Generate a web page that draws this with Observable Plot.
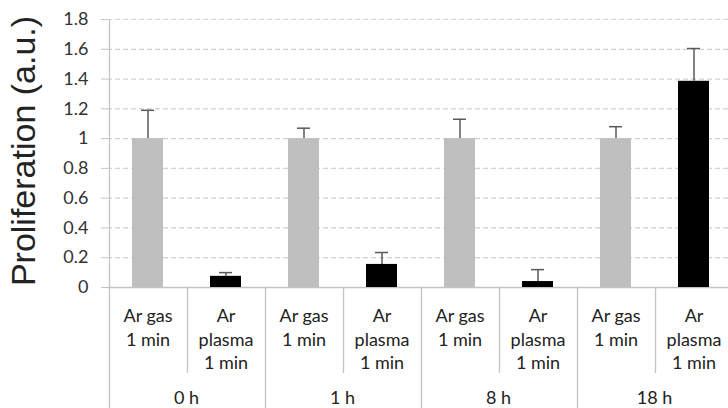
<!DOCTYPE html>
<html><head><meta charset="utf-8">
<script src="https://cdn.jsdelivr.net/npm/d3@7"></script>
<script src="https://cdn.jsdelivr.net/npm/@observablehq/plot@0.6"></script>
<style>body{margin:0;background:#fff;overflow:hidden}</style>
</head><body><div id="chart"></div>
<script>
const times = ["0 h", "1 h", "8 h", "18 h"];
const treatments = ["Ar gas\n1 min", "Ar\nplasma\n1 min"];
const gasMean = [1, 1, 1, 1];
const gasErrTop = [1.19, 1.07, 1.13, 1.08];
const plasmaMean = [0.075, 0.155, 0.04, 1.385];
const plasmaErrTop = [0.10, 0.235, 0.12, 1.605];
const yTicks = [0, 0.2, 0.4, 0.6, 0.8, 1, 1.2, 1.4, 1.6, 1.8];
const yLabel = "Proliferation (a.u.)";
const colors = ["#bfbfbf", "#000000"];

const rows = [];
times.forEach((t, i) => {
  rows.push({time: t, treat: treatments[0], key: t + "|0", mean: gasMean[i], top: gasErrTop[i]});
  rows.push({time: t, treat: treatments[1], key: t + "|1", mean: plasmaMean[i], top: plasmaErrTop[i]});
});
const keys = rows.map(d => d.key);
const labelOf = new Map(rows.map(d => [d.key, d.treat]));

function scaffold(index, scales, values, dims) {
  const {x, y} = scales;
  const g = d3.create("svg:g");
  const bw = x.bandwidth(), step = x.step();
  const y0 = y(0), yTop = y(d3.max(yTicks));
  const H = dims.height;
  keys.forEach((k, i) => {
    const xb = Math.round(x(k) + bw / 2 - step / 2) + 0.5;
    const isGroup = i % 2 === 0;
    g.append("line")
      .attr("x1", xb).attr("x2", xb)
      .attr("y1", i === 0 ? yTop : y0)
      .attr("y2", isGroup ? H : y0 + 86)
      .attr("stroke", "#c4c4c4").attr("stroke-width", 1.3);
  });
  times.forEach((t, i) => {
    const cx = x(keys[2 * i]) + bw / 2 + step / 2;
    g.append("text")
      .attr("x", cx).attr("y", H - 4)
      .attr("text-anchor", "middle")
      .attr("font-family", "Lato").attr("font-size", 18)
      .attr("fill", "#222")
      .text(t);
  });
  const cy = (yTop + y0) / 2 - 2;
  const lx = dims.marginLeft - 72;
  g.append("text")
    .attr("transform", `translate(${lx},${cy}) rotate(-90)`)
    .attr("text-anchor", "middle")
    .attr("font-family", "Liberation Sans").attr("font-size", 34)
    .attr("fill", "#222")
    .text(yLabel);
  return g.node();
}

const chart = Plot.plot({
  width: 728,
  height: 408,
  marginLeft: 107,
  marginTop: 19,
  marginBottom: 121,
  marginRight: -6,
  style: {fontFamily: "Lato", fontSize: "18px", background: "#fff"},
  x: {domain: keys, paddingInner: 0.6, paddingOuter: 0.3},
  y: {domain: [0, 1.8]},
  color: {domain: treatments, range: colors},
  marks: [
    Plot.ruleY(yTicks.filter(v => v > 0), {stroke: "#d0d0d0", strokeDasharray: "5,3", strokeWidth: 1.2}),
    Plot.ruleY([0], {stroke: "#c4c4c4", strokeWidth: 1.3}),
    Plot.barY(rows, {x: "key", y: "mean", fill: "treat"}),
    Plot.ruleX(rows, {x: "key", y1: "mean", y2: "top", stroke: "#5a5a5a", strokeWidth: 1.5}),
    Plot.tickY(rows, {x: "key", y: "top", stroke: "#5a5a5a", strokeWidth: 1.5, insetLeft: 9, insetRight: 9}),
    Plot.axisY({ticks: yTicks, tickFormat: d3.format("~g"), tickSize: 6, tickPadding: 13, stroke: "#c4c4c4", fill: "#333", label: null, fontSize: 18}),
    Plot.axisX({tickSize: 0, tickPadding: 18, tickFormat: k => labelOf.get(k), lineHeight: 1.3, fill: "#222", label: null, fontSize: 18}),
    scaffold
  ]
});
document.getElementById("chart").append(chart);
</script>
</body></html>
